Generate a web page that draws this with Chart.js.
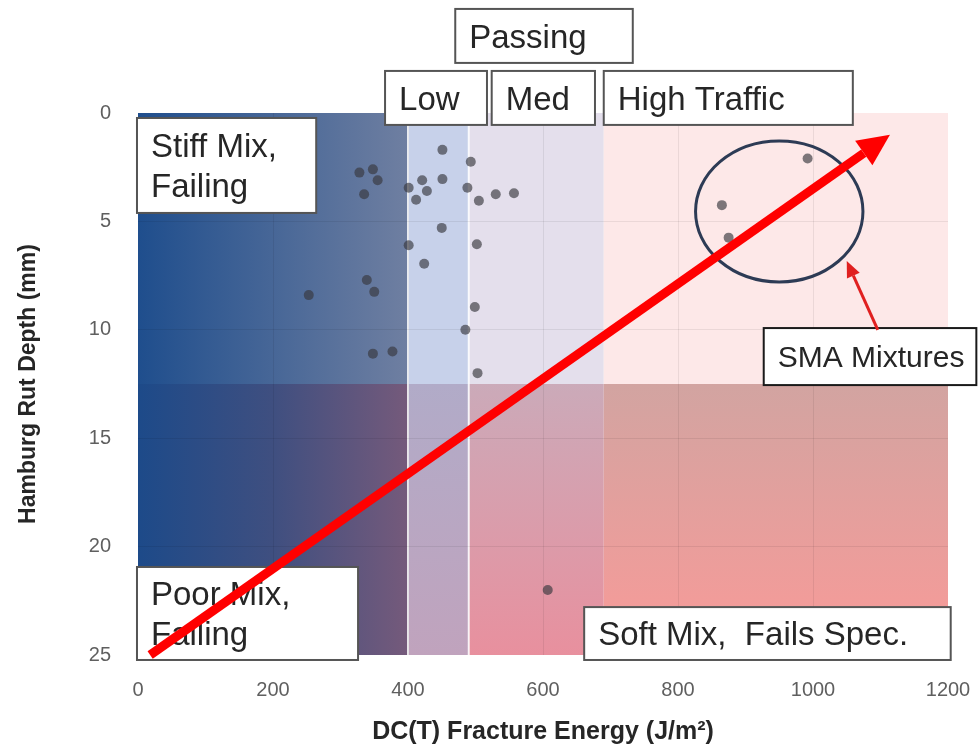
<!DOCTYPE html>
<html>
<head>
<meta charset="utf-8">
<script src="https://cdn.jsdelivr.net/npm/chart.js@4.4.1/dist/chart.umd.min.js"></script>
<style>
  html, body { margin: 0; padding: 0; background: #fff; }
</style>
</head>
<body>
<canvas id="rutChart" width="979" height="750"></canvas>
<script>
// DC(T) fracture energy (J/m2) vs Hamburg rut depth (mm)
const fractureEnergy = [451, 493, 328, 348, 355, 335, 401, 421, 428, 451, 412, 488, 505, 530, 557, 450, 401, 502, 424, 339, 350, 253, 499, 485, 348, 377, 503, 607];
const rutDepth = [1.7, 2.25, 2.75, 2.6, 3.1, 3.75, 3.45, 3.1, 3.6, 3.05, 4.0, 3.45, 4.05, 3.75, 3.7, 5.3, 6.1, 6.05, 6.95, 7.7, 8.25, 8.4, 8.95, 10.0, 11.1, 11.0, 12.0, 22.0];
const smaEnergy = [992, 865, 875];
const smaRut = [2.1, 4.25, 5.75];

const xTicks = [0, 200, 400, 600, 800, 1000, 1200];
const yTicks = [0, 5, 10, 15, 20, 25];
const trafficLimits = [400, 490, 690]; // low / med / high traffic
const rutLimit = 12.5;

const FONT = '"Liberation Sans", Arial, sans-serif';

function toPoints(xs, ys) {
    return xs.map((v, i) => ({ x: v, y: ys[i] }));
}

// background zones
const zonePlugin = {
    id: 'zones',
    beforeDraw(chart) {
        const { ctx, scales: { x, y } } = chart;
        const xs = [0, ...trafficLimits, 1200].map(v => x.getPixelForValue(v));
        const y0 = y.getPixelForValue(0), ym = y.getPixelForValue(rutLimit), y1 = y.getPixelForValue(25);
        ctx.save();
        let g = ctx.createLinearGradient(xs[0], 0, xs[1], 0);
        g.addColorStop(0, '#1f4e8d');
        g.addColorStop(1, '#6f7fa1');
        ctx.fillStyle = g;
        ctx.fillRect(xs[0], y0, xs[1] - xs[0], ym - y0);
        g = ctx.createLinearGradient(xs[0], 0, xs[1], 0);
        g.addColorStop(0, '#1d4a89');
        g.addColorStop(0.5, '#3f4f80');
        g.addColorStop(1, '#755a7b');
        ctx.fillStyle = g;
        ctx.fillRect(xs[0], ym, xs[1] - xs[0], y1 - ym);

        const topCols = ['#c7d1ea', '#e4dfec', '#fde8e8'];
        const botCols = [['#b1abc8', '#c0a3bd'], ['#cbaab9', '#e8909e'], ['#d2a4a1', '#f99a98']];
        for (let i = 1; i < 4; i++) {
            ctx.fillStyle = topCols[i - 1];
            ctx.fillRect(xs[i], y0, xs[i + 1] - xs[i], ym - y0);
            g = ctx.createLinearGradient(0, ym, 0, y1);
            g.addColorStop(0, botCols[i - 1][0]);
            g.addColorStop(1, botCols[i - 1][1]);
            ctx.fillStyle = g;
            ctx.fillRect(xs[i], ym, xs[i + 1] - xs[i], y1 - ym);
        }
        ctx.strokeStyle = 'rgba(255,255,255,0.85)';
        ctx.lineWidth = 2;
        [xs[1], xs[2]].forEach(px => {
            ctx.beginPath();
            ctx.moveTo(px, y0);
            ctx.lineTo(px, y1);
            ctx.stroke();
        });
        ctx.restore();
    }
};

const boxes = [
    { lines: ['Passing'], x0: 470, x1: 733, y0: -4.8, y1: -2.31 },
    { lines: ['Low'], x0: 366, x1: 517, y0: -1.94, y1: 0.55 },
    { lines: ['Med'], x0: 524, x1: 677, y0: -1.94, y1: 0.55 },
    { lines: ['High Traffic'], x0: 690, x1: 1059, y0: -1.94, y1: 0.55 },
    { lines: ['Stiff Mix,', 'Failing'], x0: -1.5, x1: 264, y0: 0.23, y1: 4.61 },
    { lines: ['Poor Mix,', 'Failing'], x0: -1.5, x1: 326, y0: 20.94, y1: 25.23 },
    { lines: ['Soft Mix,  Fails Spec.'], x0: 661, x1: 1204, y0: 22.79, y1: 25.23 },
    { lines: ['SMA Mixtures'], x0: 927, x1: 1242, y0: 9.92, y1: 12.55, size: 30, edge: '#1a1a1a' }
];

function drawBox(ctx, b, x, y) {
    const l = x.getPixelForValue(b.x0), r = x.getPixelForValue(b.x1);
    const t = y.getPixelForValue(b.y0), btm = y.getPixelForValue(b.y1);
    ctx.fillStyle = '#fff';
    ctx.fillRect(l, t, r - l, btm - t);
    ctx.strokeStyle = b.edge || '#555';
    ctx.lineWidth = 2;
    ctx.strokeRect(l, t, r - l, btm - t);
    const size = b.size || 33;
    ctx.font = size + 'px ' + FONT;
    ctx.fillStyle = '#262626';
    ctx.textAlign = 'left';
    ctx.textBaseline = 'alphabetic';
    const gap = size * 1.2, cap = size * 0.716;
    const first = (t + btm) / 2 - (b.lines.length - 1) * gap / 2 + cap / 2;
    b.lines.forEach((s, i) => ctx.fillText(s, l + 14, first + i * gap));
}

function drawArrow(ctx, x1, y1, x2, y2, w, headLen, headHalf, color) {
    const ang = Math.atan2(y2 - y1, x2 - x1);
    const bx = x2 - headLen * Math.cos(ang), by = y2 - headLen * Math.sin(ang);
    ctx.strokeStyle = color;
    ctx.fillStyle = color;
    ctx.lineWidth = w;
    ctx.lineCap = 'butt';
    ctx.beginPath();
    ctx.moveTo(x1, y1);
    ctx.lineTo(bx, by);
    ctx.stroke();
    ctx.beginPath();
    ctx.moveTo(x2, y2);
    ctx.lineTo(bx + headHalf * Math.sin(ang), by - headHalf * Math.cos(ang));
    ctx.lineTo(bx - headHalf * Math.sin(ang), by + headHalf * Math.cos(ang));
    ctx.closePath();
    ctx.fill();
}

const notesPlugin = {
    id: 'notes',
    afterDraw(chart) {
        const { ctx, scales: { x, y } } = chart;
        ctx.save();
        boxes.forEach(b => drawBox(ctx, b, x, y));

        // SMA ellipse
        const cx = x.getPixelForValue(950), cy = y.getPixelForValue(4.54);
        const rx = x.getPixelForValue(950 + 124) - cx, ry = y.getPixelForValue(4.54 + 3.25) - cy;
        ctx.strokeStyle = '#2d3b55';
        ctx.lineWidth = 3;
        ctx.beginPath();
        ctx.ellipse(cx, cy, rx, ry, 0, 0, Math.PI * 2);
        ctx.stroke();

        // pointer to the SMA group
        drawArrow(ctx, x.getPixelForValue(1096), y.getPixelForValue(10.0),
            x.getPixelForValue(1050), y.getPixelForValue(6.83), 3, 16, 7, '#e02020');

        // big trend arrow
        drawArrow(ctx, x.getPixelForValue(18), y.getPixelForValue(25.0),
            x.getPixelForValue(1114), y.getPixelForValue(1.0), 9, 32, 15, '#ff0000');
        ctx.restore();
    }
};

const gridColor = ctx => (ctx.tick && (ctx.index === 0 || ctx.index === ctx.scale.ticks.length - 1)) ? 'rgba(0,0,0,0)' : 'rgba(0,0,0,0.07)';

new Chart(document.getElementById('rutChart').getContext('2d'), {
    type: 'scatter',
    data: {
        datasets: [{
            label: 'Mixtures',
            data: toPoints(fractureEnergy, rutDepth),
            backgroundColor: 'rgba(55,55,62,0.65)',
            borderWidth: 0,
            pointRadius: 5
        }, {
            label: 'SMA Mixtures',
            data: toPoints(smaEnergy, smaRut),
            backgroundColor: 'rgba(55,55,62,0.65)',
            borderWidth: 0,
            pointRadius: 5
        }]
    },
    options: {
        responsive: false,
        animation: false,
        layout: { padding: { top: 113, right: 31, left: 0, bottom: 0 } },
        plugins: {
            legend: { display: false },
            tooltip: { enabled: false }
        },
        scales: {
            x: {
                type: 'linear',
                min: 0,
                max: 1200,
                afterBuildTicks: s => { s.ticks = xTicks.map(v => ({ value: v })); },
                afterFit: s => { s.height = 95; s.paddingLeft = 0; s.paddingRight = 0; },
                grid: { color: gridColor, drawTicks: false },
                border: { display: false },
                ticks: { padding: 23, color: '#5f5f5f', font: { family: FONT, size: 20 }, callback: v => String(v) },
                title: {
                    display: true,
                    text: 'DC(T) Fracture Energy (J/m²)',
                    color: '#262626',
                    font: { family: FONT, size: 25, weight: 'bold' },
                    padding: { top: 0, bottom: 3 }
                }
            },
            y: {
                type: 'linear',
                reverse: true,
                min: 0,
                max: 25,
                afterBuildTicks: s => { s.ticks = yTicks.map(v => ({ value: v })); },
                afterFit: s => { s.width = 138; s.paddingTop = 0; s.paddingBottom = 0; },
                grid: { color: gridColor, drawTicks: false },
                border: { display: false },
                ticks: { padding: 27, color: '#5f5f5f', font: { family: FONT, size: 20 }, callback: v => String(v) },
                title: {
                    display: true,
                    text: 'Hamburg Rut Depth (mm)',
                    color: '#262626',
                    font: { family: FONT, size: 23, weight: 'bold' },
                    padding: { top: 15, bottom: 0 }
                }
            }
        }
    },
    plugins: [zonePlugin, notesPlugin]
});
</script>
</body>
</html>
